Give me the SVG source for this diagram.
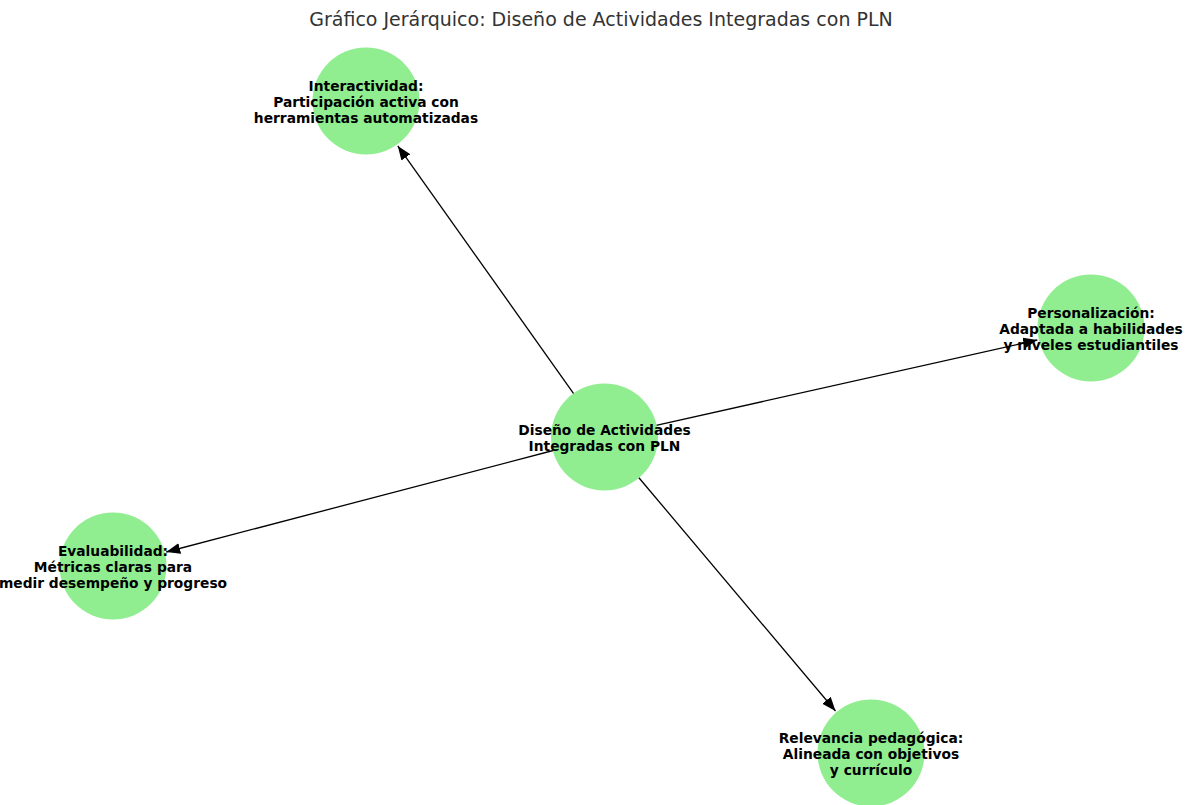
<svg xmlns="http://www.w3.org/2000/svg" width="1188" height="805" viewBox="0 0 1188 805">
<defs>
<style>
.node{fill:#90EE90;}
.lbl{font-family:"DejaVu Sans",sans-serif;font-weight:bold;font-size:13.8px;fill:#000;text-anchor:middle;}
.title{font-family:"DejaVu Sans",sans-serif;font-size:19px;fill:#333;text-anchor:middle;}
.edge{stroke:#000;stroke-width:1.3;fill:none;marker-end:url(#arr);}
</style>
<marker id="arr" markerUnits="userSpaceOnUse" markerWidth="16" markerHeight="12" refX="14" refY="5.5" orient="auto">
<path d="M0,0 L14,5.5 L0,11 Z" fill="#000"/>
</marker>
</defs>
<rect width="1188" height="805" fill="#fff"/>
<text class="title" x="601" y="26">Gráfico Jerárquico: Diseño de Actividades Integradas con PLN</text>
<g id="edges">
<line class="edge" x1="573.8" y1="393.8" x2="397.8" y2="145.9"/>
<line class="edge" x1="656.2" y1="425.4" x2="1037.3" y2="340.0"/>
<line class="edge" x1="553.2" y1="450.5" x2="166.2" y2="552.0"/>
<line class="edge" x1="638.7" y1="477.5" x2="835.5" y2="711.0"/>
</g>
<g id="center">
<circle class="node" cx="604.5" cy="437" r="53.5"/>
<text class="lbl" x="604.5" y="434.5">Diseño de Actividades</text>
<text class="lbl" x="604.5" y="450.5">Integradas con PLN</text>
</g>
<g id="interactividad">
<circle class="node" cx="366" cy="101" r="53.5"/>
<text class="lbl" x="366" y="90.5">Interactividad:</text>
<text class="lbl" x="366" y="106.5">Participación activa con</text>
<text class="lbl" x="366" y="122.5">herramientas automatizadas</text>
</g>
<g id="personalizacion">
<circle class="node" cx="1091" cy="328" r="53.5"/>
<text class="lbl" x="1091" y="317.5">Personalización:</text>
<text class="lbl" x="1091" y="333.5">Adaptada a habilidades</text>
<text class="lbl" x="1091" y="349.5">y niveles estudiantiles</text>
</g>
<g id="evaluabilidad">
<circle class="node" cx="113" cy="566" r="53.5"/>
<text class="lbl" x="113" y="555.5">Evaluabilidad:</text>
<text class="lbl" x="113" y="571.5">Métricas claras para</text>
<text class="lbl" x="113" y="587.5">medir desempeño y progreso</text>
</g>
<g id="relevancia">
<circle class="node" cx="871" cy="753" r="53.5"/>
<text class="lbl" x="871" y="742.5">Relevancia pedagógica:</text>
<text class="lbl" x="871" y="758.5">Alineada con objetivos</text>
<text class="lbl" x="871" y="774.5">y currículo</text>
</g>
</svg>
